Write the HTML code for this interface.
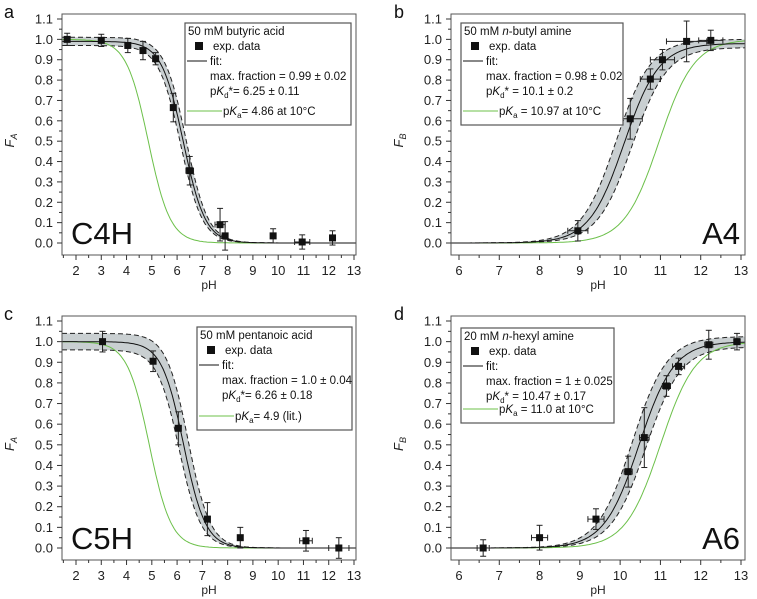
<!DOCTYPE html>
<html><head><meta charset="utf-8"><style>
body{margin:0;background:#fff;}
svg{display:block;font-family:"Liberation Sans","DejaVu Sans",sans-serif;}
</style></head><body>
<svg id="chart" width="757" height="599" viewBox="0 0 757 599"></svg>
<script>
// Panel a (butyric acid)
const aPH=[1.65,3.0,4.05,4.65,5.15,5.85,6.5,7.7,7.9,9.8,10.95,12.15];
const aF=[1.0,0.995,0.97,0.945,0.905,0.665,0.355,0.09,0.035,0.035,0.005,0.025];
const aYerr=[0.03,0.03,0.035,0.045,0.03,0.07,0.07,0.08,0.07,0.035,0.035,0.035];
const aXerr=[0,0,0,0,0,0,0.15,0.2,0,0,0.3,0];
const aFit=[0.99,0.02,6.25,0.11,4.86];
// Panel b (butyl amine)
const bPH=[8.95,10.25,10.75,11.05,11.65,12.25];
const bF=[0.06,0.61,0.805,0.9,0.99,0.995];
const bYerr=[0.05,0.1,0.05,0.05,0.1,0.05];
const bXerr=[0.25,0.3,0.25,0.3,0.5,0.3];
const bFit=[0.98,0.02,10.1,0.2,10.97];
// Panel c (pentanoic acid)
const cPH=[3.05,5.05,6.05,7.2,8.5,11.1,12.4];
const cF=[1.0,0.905,0.58,0.14,0.05,0.035,0.0];
const cYerr=[0.05,0.05,0.08,0.08,0.05,0.05,0.05];
const cXerr=[0,0,0,0,0,0.25,0.4];
const cFit=[1.0,0.04,6.26,0.18,4.9];
// Panel d (hexyl amine)
const dPH=[6.6,8.0,9.4,10.2,10.6,11.15,11.45,12.2,12.9];
const dF=[0.0,0.05,0.14,0.37,0.535,0.785,0.88,0.985,1.0];
const dYerr=[0.04,0.06,0.05,0.075,0.145,0.05,0.04,0.07,0.04];
const dXerr=[0.15,0.2,0.2,0.1,0.12,0.1,0.15,0.1,0.08];
const dFit=[1.0,0.025,10.47,0.17,11.0];

const svg=document.getElementById('chart');
const NS='http://www.w3.org/2000/svg';
function mk(tag,attrs,parent,text){const e=document.createElementNS(NS,tag);for(const k in attrs)e.setAttribute(k,attrs[k]);if(text!==undefined)e.textContent=text;(parent||svg).appendChild(e);return e;}

const panels=[
 {id:'a',ph:aPH,f:aF,ye:aYerr,xe:aXerr,fit:aFit,acid:true,xmin:2,x0:76,xs:(354-76)/11,fl:62,fr:356,y0:243,ys:224/1.1,ft:14,fb:255,letterX:4,letterY:18,
  title:'F',sub:'A',big:'C4H',bigX:71,bigAnchor:'start',leg:[185,23,351,125],
  lines:['50 mM butyric acid','max. fraction = 0.99 ± 0.02',['6.25 ± 0.11','*= '],['4.86 at 10°C','= ']],xticks:[2,3,4,5,6,7,8,9,10,11,12,13]},
 {id:'b',ph:bPH,f:bF,ye:bYerr,xe:bXerr,fit:bFit,acid:false,xmin:6,x0:459,xs:(741-459)/7,fl:451,fr:745,y0:243,ys:224/1.1,ft:14,fb:255,letterX:394,letterY:18,
  title:'F',sub:'B',big:'A4',bigX:740,bigAnchor:'end',leg:[461,23,623,125],
  lines:['50 mM n-butyl amine','max. fraction = 0.98 ± 0.02',['10.1 ± 0.2','* = '],['10.97 at 10°C',' = ']],xticks:[6,7,8,9,10,11,12,13]},
 {id:'c',ph:cPH,f:cF,ye:cYerr,xe:cXerr,fit:cFit,acid:true,xmin:2,x0:76,xs:(354-76)/11,fl:62,fr:356,y0:548,ys:227/1.1,ft:316,fb:560,letterX:4,letterY:320,
  title:'F',sub:'A',big:'C5H',bigX:71,bigAnchor:'start',leg:[197,327,352,430],
  lines:['50 mM pentanoic acid','max. fraction = 1.0 ± 0.04',['6.26 ± 0.18','*= '],['4.9 (lit.)','= ']],xticks:[2,3,4,5,6,7,8,9,10,11,12,13]},
 {id:'d',ph:dPH,f:dF,ye:dYerr,xe:dXerr,fit:dFit,acid:false,xmin:6,x0:459,xs:(741-459)/7,fl:451,fr:745,y0:548,ys:227/1.1,ft:316,fb:560,letterX:394,letterY:320,
  title:'F',sub:'B',big:'A6',bigX:740,bigAnchor:'end',leg:[461,328,614,423],
  lines:['20 mM n-hexyl amine','max. fraction = 1 ± 0.025',['10.47 ± 0.17','* = '],['11.0 at 10°C',' = ']],xticks:[6,7,8,9,10,11,12,13]}
];

function sig(p,ph,max,pk){return p.acid? max/(1+Math.pow(10,ph-pk)) : max/(1+Math.pow(10,pk-ph));}

panels.forEach(p=>{
 const g=mk('g',{});
 
 
 const X=v=>p.x0+(v-p.xmin)*p.xs, Y=v=>p.y0-v*p.ys;
 const pmin=p.xmin+(p.fl-p.x0)/p.xs, pmax=p.xmin+(p.fr-p.x0)/p.xs;
 const [mx,mxe,pk,pke,pka]=p.fit;
 const N=160;let up=[],lo=[],fit=[],gr=[];
 for(let i=0;i<=N;i++){const ph=pmin+(pmax-pmin)*i/N;
  const vals=[];for(const m of [mx-mxe,mx+mxe])for(const k of [pk-pke,pk+pke])vals.push(sig(p,ph,m,k));
  up.push([X(ph),Y(Math.max(...vals))]);lo.push([X(ph),Y(Math.min(...vals))]);
  fit.push([X(ph),Y(sig(p,ph,mx,pk))]);gr.push([X(ph),Y(sig(p,ph,1,pka))]);}
 const pts=a=>a.map(q=>q[0].toFixed(1)+','+q[1].toFixed(1)).join(' ');
 const band=mk('polygon',{points:pts(up)+' '+pts(lo.slice().reverse()),fill:'#c9cfd1',stroke:'none'},g);
 
 
 const du=mk('polyline',{points:pts(up),fill:'none',stroke:'#222','stroke-width':1,'stroke-dasharray':'5,3'},g);
 
 
 const dl=mk('polyline',{points:pts(lo),fill:'none',stroke:'#222','stroke-width':1,'stroke-dasharray':'5,3'},g);
 
 
 const gl=mk('polyline',{points:pts(gr),fill:'none',stroke:'#6cc04a','stroke-width':1},g);
 
 
 const fl=mk('polyline',{points:pts(fit),fill:'none',stroke:'#111','stroke-width':1},g);
 
 
 const fr=mk('rect',{x:p.fl,y:p.ft,width:p.fr-p.fl,height:p.fb-p.ft,fill:'none',stroke:'#555','stroke-width':1},g);
 
 
 for(let i=0;i<=22;i++){const v=i*0.05,y=Y(v);const major=i%2===0;
  mk('line',{x1:p.fl,x2:p.fl-(major?5:3),y1:y,y2:y,stroke:'#333','stroke-width':1},g);
  if(major){const t=mk('text',{x:p.fl-9,y:y+4.5,'font-size':13,'text-anchor':'end',fill:'#222'},g,(v).toFixed(1));
   
   }}
 for(let v=Math.ceil(pmin*2)/2;v<=pmax+0.001;v+=0.5){const x=X(v);const major=Math.abs(v-Math.round(v))<0.01;
  mk('line',{x1:x,x2:x,y1:p.fb,y2:p.fb+(major?5:3),stroke:'#333','stroke-width':1},g);}
 p.xticks.forEach(v=>{const t=mk('text',{x:X(v),y:p.fb+20,'font-size':13,'text-anchor':'middle',fill:'#222'},g,String(v));
  
  });
 const xt=mk('text',{x:(p.fl+p.fr)/2,y:p.fb+34,'font-size':12,'text-anchor':'middle',fill:'#222'},g,'pH');
 
 
 const cy=(p.ft+p.fb)/2+6;
 const yt=mk('text',{x:0,y:0,'font-size':13,'font-style':'italic','text-anchor':'middle',fill:'#222',transform:`translate(${p.fl-48},${cy}) rotate(-90)`},g);
 
 
 mk('tspan',{},yt,p.title);mk('tspan',{'font-size':9,dy:3},yt,p.sub);
 p.ph.forEach((ph,i)=>{const x=X(ph),y=Y(p.f[i]);
  const pg=mk('g',{},g);
  
  
  const yt1=Y(p.f[i]+p.ye[i]),yb=Y(p.f[i]-p.ye[i]);
  mk('line',{x1:x,x2:x,y1:yt1,y2:yb,stroke:'#222','stroke-width':1},pg);
  mk('line',{x1:x-3,x2:x+3,y1:yt1,y2:yt1,stroke:'#222'},pg);
  mk('line',{x1:x-3,x2:x+3,y1:yb,y2:yb,stroke:'#222'},pg);
  if(p.xe[i]>0){const xl=X(ph-p.xe[i]),xr=X(ph+p.xe[i]);
   mk('line',{x1:xl,x2:xr,y1:y,y2:y,stroke:'#222'},pg);
   mk('line',{x1:xl,x2:xl,y1:y-3,y2:y+3,stroke:'#222'},pg);
   mk('line',{x1:xr,x2:xr,y1:y-3,y2:y+3,stroke:'#222'},pg);}
  mk('rect',{x:x-3.5,y:y-3.5,width:7,height:7,fill:'#111'},pg);
 });
 const [l,t,r,b]=p.leg;
 const lg=mk('g',{},g);
 
 
 mk('rect',{x:l,y:t,width:r-l,height:b-t,fill:'#fff',stroke:'#555','stroke-width':1.2},lg);
 const fs=11.5;
 const t0=mk('text',{x:l+3,y:t+12,'font-size':fs,fill:'#111'},lg);
 const parts=p.lines[0].split('n-');
 if(parts.length>1){mk('tspan',{},t0,parts[0]);mk('tspan',{'font-style':'italic'},t0,'n');mk('tspan',{},t0,'-'+parts[1]);}else t0.textContent=p.lines[0];
 mk('rect',{x:l+10,y:t+19,width:8,height:8,fill:'#111'},lg);
 mk('text',{x:l+28,y:t+27,'font-size':fs,fill:'#111'},lg,'exp. data');
 mk('line',{x1:l+2,x2:l+22,y1:t+38,y2:t+38,stroke:'#111'},lg);
 mk('text',{x:l+25,y:t+42,'font-size':fs,fill:'#111'},lg,'fit:');
 mk('text',{x:l+25,y:t+57,'font-size':fs,fill:'#111'},lg,p.lines[1]);
 const t3=mk('text',{x:l+25,y:t+72,'font-size':fs,fill:'#111'},lg);
 mk('tspan',{},t3,'p');mk('tspan',{'font-style':'italic'},t3,'K');mk('tspan',{'font-size':8,dy:3},t3,'d');mk('tspan',{dy:-3},t3,p.lines[2][1]+p.lines[2][0]);
 const ly=t+(b-t)-14;
 mk('line',{x1:l+2,x2:l+37,y1:ly,y2:ly,stroke:'#6cc04a'},lg);
 const t4=mk('text',{x:l+38,y:ly+4,'font-size':fs,fill:'#111'},lg);
 mk('tspan',{},t4,'p');mk('tspan',{'font-style':'italic'},t4,'K');mk('tspan',{'font-size':8,dy:3},t4,'a');mk('tspan',{dy:-3},t4,p.lines[3][1]+p.lines[3][0]);
 const bl=mk('text',{x:p.bigX,y:p.fb-11,'font-size':31,'text-anchor':p.bigAnchor,fill:'#111'},g,p.big);
 
 
 const lt=mk('text',{x:p.letterX,y:p.letterY,'font-size':18,fill:'#111'},g,p.id);
 
 
});
</script>
</body></html>
